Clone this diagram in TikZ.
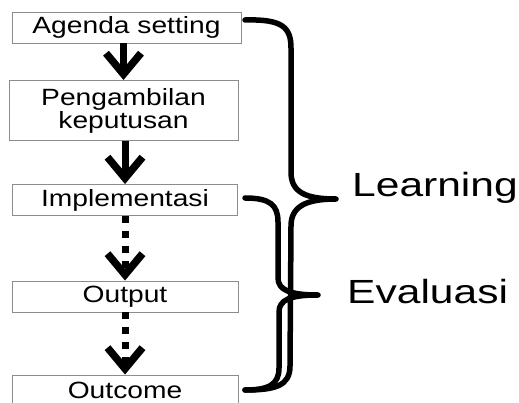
\documentclass[tikz,border=0pt]{standalone}
\usepackage{fontspec}
\setmainfont{Liberation Sans}
\newfontfamily\boxfont[FakeStretch=1.2]{Liberation Sans}
\newfontfamily\sidefont[FakeStretch=1.27]{Liberation Sans}
\usetikzlibrary{arrows.meta}
\begin{document}
\begin{tikzpicture}[x=1pt,y=-1pt,
  stage/.style={draw=black!45, line width=0.9pt, fill=white, inner sep=0pt,
    font=\boxfont\fontsize{23.5}{23}\selectfont, align=center},
  flow/.style={line width=7pt,
    -{Straight Barb[length=21pt,width=35pt,line width=7.5pt]}},
  weakflow/.style={flow, dash pattern=on 7pt off 8pt},
  brace/.style={line width=5.5pt, line cap=round, line join=round},
  side/.style={font=\sidefont\fontsize{33.5}{36}\selectfont,
    anchor=base west, inner sep=0pt}]
\useasboundingbox (0,0) rectangle (519,403);
\clip (0,0) rectangle (519,403);

% policy cycle stages
\node[stage, minimum width=229pt, minimum height=31pt] (agenda) at (126.5,27.5) {Agenda setting};
\node[stage, minimum width=229pt, minimum height=60pt] (putusan) at (123.5,110.5) {Pengambilan\\keputusan};
\node[stage, minimum width=225pt, minimum height=31pt] (impl) at (125,200) {Implementasi};
\node[stage, minimum width=226pt, minimum height=31pt] (output) at (125,296.5) {Output};
\node[stage, minimum width=226pt, minimum height=30pt] (outcome) at (125,390) {Outcome};

% flow between stages
\draw[flow] (agenda.south -| putusan.north) -- (putusan.north);
\draw[flow] (putusan.south -| impl.north) -- (impl.north);
\draw[weakflow] (impl.south) -- (output.north);
\draw[weakflow] (output.south) -- (outcome.north);

% brace for Learning (agenda setting to outcome)
\draw[brace] (245,20) .. controls (282,19) and (291,27) .. (291,48)
  -- (291,172) .. controls (291,192) and (305,199) .. (336,199)
  .. controls (305,199) and (291,207) .. (291,226)
  -- (290,366) .. controls (290,386) and (275,390) .. (245,390);

% brace for Evaluasi (implementasi to outcome)
\draw[brace] (245,198) .. controls (270,198) and (278,205) .. (278,222)
  -- (278,278) .. controls (278,290) and (290,295) .. (318,295)
  .. controls (290,295) and (279,300) .. (279,312)
  -- (279,368) .. controls (279,385) and (268,390) .. (245,390);

\node[side] (learning) at (352,197) {Learning};
\node[side] (evaluasi) at (347,303) {Evaluasi};
\end{tikzpicture}
\end{document}
